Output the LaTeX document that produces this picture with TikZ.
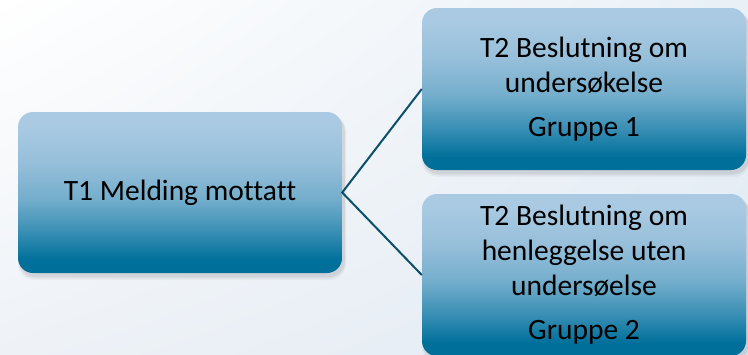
\documentclass[tikz,border=0pt]{standalone}
\usepackage{fontspec}
\setmainfont{Carlito}[Ligatures={NoCommon}]
\usetikzlibrary{positioning,shadings}
\definecolor{bgA}{HTML}{FFFFFF}
\definecolor{bgB}{HTML}{E9F0F6}
\definecolor{bgC}{HTML}{EEF2F7}
\definecolor{bgD}{HTML}{E2EAF3}
\definecolor{linecol}{HTML}{0B5068}
\definecolor{bxA}{HTML}{A9CAE2}
\definecolor{bxB}{HTML}{98C0DB}
\definecolor{bxC}{HTML}{74AECC}
\definecolor{bxD}{HTML}{3A8FB5}
\definecolor{bxE}{HTML}{00709A}
\pgfdeclareverticalshading{boxshade}{100bp}{
  color(0bp)=(bxE); color(25bp)=(bxE); color(29bp)=(bxE); color(38bp)=(bxD); color(48bp)=(bxC);
  color(60bp)=(bxB); color(71bp)=(bxA); color(75bp)=(bxA); color(100bp)=(bxA)}
\tikzset{
  card/.style={rounded corners=15pt, shading=boxshade, shading angle=0,
    minimum width=324pt, align=center, inner sep=0pt,
    text=black, font=\fontsize{29.5}{35}\selectfont},
  conn/.style={draw=linecol, line width=2pt},
  shadowlayer/.style={fill=black, fill opacity=#1, rounded corners=16pt}
}
\begin{document}
\begin{tikzpicture}[x=1pt,y=-1pt]
\useasboundingbox (0,0) rectangle (748,354);
\shade[upper left=bgA, upper right=bgB, lower left=bgC, lower right=bgD] (0,0) rectangle (748,354);
% shadows
\foreach \bx/\by/\ex/\ey in {18/112/342/273, 422/8/746/170, 422/194/746/356}{
  \foreach \o/\op in {5/0.03, 3.5/0.04, 2/0.05}{
    \fill[shadowlayer=\op] (\bx+2-\o*0.4,\by+3) rectangle (\ex+2+\o*0.4,\ey+2+\o);
  }
}
\node[card, minimum height=161pt] (t1) at (180,192.5) {T1 Melding mottatt};
\node[card, minimum height=162pt] (t2a) at (584,89) {T2 Beslutning om\\undersøkelse\\[9pt]Gruppe 1};
\node[card, minimum height=162pt] (t2b) at (584,275) {T2 Beslutning om\\henleggelse uten\\undersøelse\\[9pt]Gruppe 2};
\draw[conn] (t2a.west) -- (t1.east) -- (t2b.west);
\end{tikzpicture}
\end{document}
